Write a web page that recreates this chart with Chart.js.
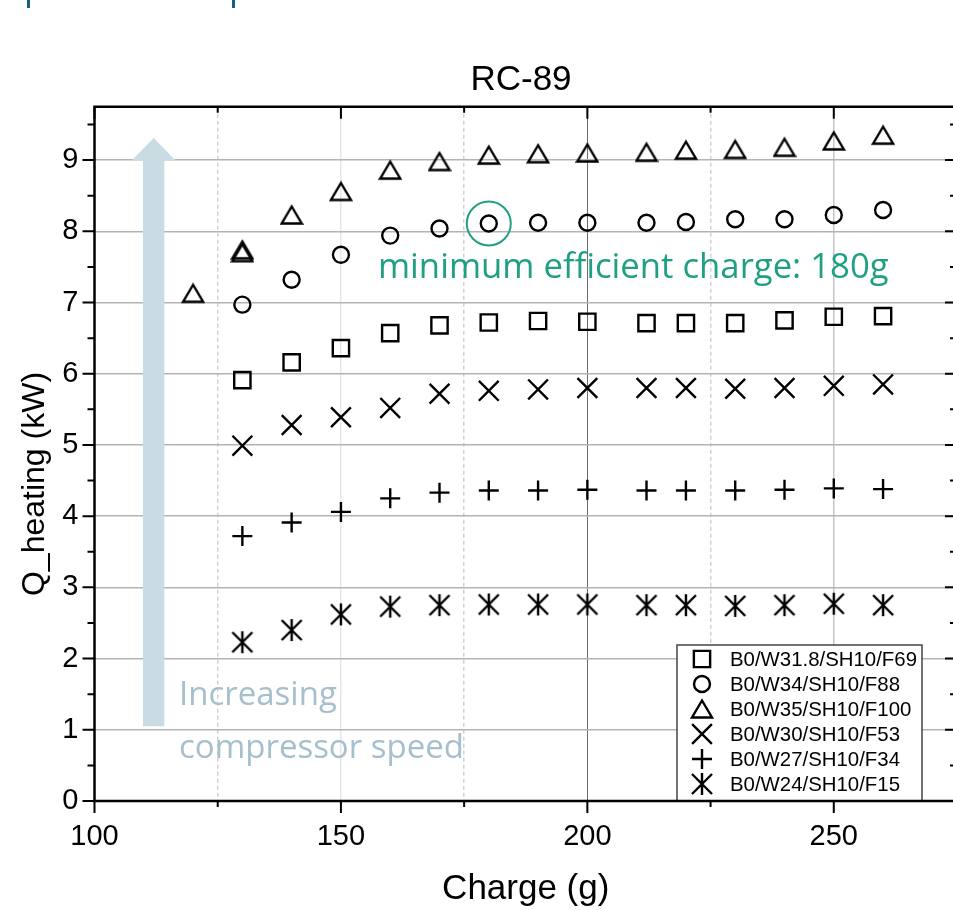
<!DOCTYPE html>
<html>
<head>
<meta charset="utf-8">
<title>RC-89</title>
<script src="https://cdn.jsdelivr.net/npm/chart.js@4.4.1/dist/chart.umd.min.js"></script>
<style>
  html, body { margin: 0; padding: 0; background: #fff; overflow: hidden; }
  #wrap { position: relative; width: 960px; height: 910px; }
</style>
</head>
<body>
<div id="wrap"><canvas id="chart" width="960" height="910"></canvas></div>
<script>
// charge (g) on the x axis; the W35 series has one extra point at 120 g and two at 130 g
const charges = [130, 140, 150, 160, 170, 180, 190, 200, 212, 220, 230, 240, 250, 260];
const chargesW35 = [120, 130, 130, 140, 150, 160, 170, 180, 190, 200, 212, 220, 230, 240, 250, 260];

// Q_heating (kW)
const qW318 = [5.91, 6.16, 6.36, 6.57, 6.68, 6.72, 6.74, 6.73, 6.71, 6.71, 6.71, 6.75, 6.80, 6.81];
const qW34 = [6.97, 7.32, 7.67, 7.94, 8.04, 8.11, 8.12, 8.12, 8.12, 8.13, 8.17, 8.17, 8.23, 8.30];
const qW35 = [7.13, 7.74, 7.70, 8.23, 8.56, 8.86, 8.98, 9.07, 9.09, 9.10, 9.11, 9.14, 9.15, 9.18, 9.27, 9.35];
const qW30 = [4.99, 5.28, 5.39, 5.52, 5.72, 5.76, 5.78, 5.80, 5.80, 5.80, 5.79, 5.80, 5.83, 5.85];
const qW27 = [3.72, 3.91, 4.06, 4.25, 4.33, 4.36, 4.36, 4.37, 4.36, 4.36, 4.36, 4.37, 4.39, 4.38];
const qW24 = [2.23, 2.40, 2.62, 2.73, 2.75, 2.76, 2.76, 2.76, 2.75, 2.75, 2.74, 2.75, 2.77, 2.75];

const seriesLabels = [
  'B0/W31.8/SH10/F69', 'B0/W34/SH10/F88', 'B0/W35/SH10/F100',
  'B0/W30/SH10/F53', 'B0/W27/SH10/F34', 'B0/W24/SH10/F15'
];

const X_MIN = 100, X_MAX = 275, X_STEP = 25;
const Y_MIN = 0, Y_MAX = 9.75;
const MIN_CHARGE = 180;

const GREEN = '#1f9f83';
const ARROW = '#c9dce4';
const NOTE = '#a6bfcc';
const SANS = '"Liberation Sans", Arial, sans-serif';
const NOTE_FONT = '"Open Sans", "Noto Sans", sans-serif';
const STROKE = 2.4;

function toPoints(xs, ys) {
  return xs.map((x, i) => ({ x, y: ys[i] }));
}

function makeMarker(w, h, draw) {
  const c = document.createElement('canvas');
  c.width = w; c.height = h;
  const g = c.getContext('2d');
  g.strokeStyle = '#000';
  g.lineWidth = STROKE;
  draw(g, w, h);
  return c;
}

const triangleMarker = makeMarker(24, 22, (g) => {
  g.beginPath();
  g.moveTo(12, 2.5); g.lineTo(2, 19.5); g.lineTo(22, 19.5);
  g.closePath();
  g.stroke();
});

const asteriskMarker = makeMarker(24, 24, (g) => {
  g.beginPath();
  g.moveTo(12, 1); g.lineTo(12, 23);
  g.moveTo(2, 2); g.lineTo(22, 22);
  g.moveTo(22, 2); g.lineTo(2, 22);
  g.stroke();
});

function series(label, xs, ys, pointStyle, radius) {
  return {
    label,
    data: toPoints(xs, ys),
    showLine: false,
    pointStyle,
    pointRadius: radius,
    pointBorderWidth: STROKE,
    pointBorderColor: '#000',
    pointBackgroundColor: 'rgba(0,0,0,0)'
  };
}

const datasets = [
  series(seriesLabels[0], charges, qW318, 'rect', 11.5),
  series(seriesLabels[1], charges, qW34, 'circle', 8),
  series(seriesLabels[2], chargesW35, qW35, triangleMarker, 11),
  series(seriesLabels[3], charges, qW30, 'crossRot', 14),
  series(seriesLabels[4], charges, qW27, 'cross', 10),
  series(seriesLabels[5], charges, qW24, asteriskMarker, 11)
];

function xGridColor(v) {
  if (v === X_MIN || v === X_MAX) return 'rgba(0,0,0,0)';
  if (v === 200) return '#6a6a6a';
  if (v === 250) return '#c6c6c6';
  if (v === 150) return '#e6e6e6';
  return '#d2d2d2';
}

function drawMarker(ctx, ds, x, y) {
  const style = ds.pointStyle;
  if (style instanceof HTMLCanvasElement) {
    ctx.drawImage(style, x - style.width / 2, y - style.height / 2);
    return;
  }
  ctx.save();
  ctx.strokeStyle = '#000';
  ctx.fillStyle = 'rgba(0,0,0,0)';
  ctx.lineWidth = STROKE;
  Chart.helpers.drawPoint(ctx, { pointStyle: style, radius: ds.pointRadius, rotation: 0, borderWidth: STROKE }, x, y);
  ctx.restore();
}

const arrowPlugin = {
  id: 'arrow',
  beforeDatasetsDraw(chart) {
    const { ctx, scales: { x, y } } = chart;
    const cx = x.getPixelForValue(112);
    const yBase = y.getPixelForValue(9);
    const yTip = y.getPixelForValue(9.31);
    const yBottom = y.getPixelForValue(1.05);
    ctx.save();
    ctx.fillStyle = ARROW;
    ctx.fillRect(cx - 10.7, yBase, 21.4, yBottom - yBase);
    ctx.beginPath();
    ctx.moveTo(cx - 21.5, yBase);
    ctx.lineTo(cx, yTip);
    ctx.lineTo(cx + 21.5, yBase);
    ctx.closePath();
    ctx.fill();
    ctx.restore();
  }
};

const overlayPlugin = {
  id: 'overlay',
  afterDatasetsDraw(chart) {
    const { ctx, chartArea: a, scales: { x, y } } = chart;
    ctx.save();

    // notes
    ctx.fillStyle = NOTE;
    ctx.font = `33px ${NOTE_FONT}`;
    ctx.textAlign = 'left';
    ctx.textBaseline = 'alphabetic';
    ctx.fillText('Increasing', 179, 705);
    ctx.fillText('compressor speed', 179, 758);

    const mi = charges.indexOf(MIN_CHARGE);
    ctx.strokeStyle = GREEN;
    ctx.lineWidth = 2;
    ctx.beginPath();
    ctx.arc(x.getPixelForValue(MIN_CHARGE), y.getPixelForValue(qW34[mi]), 22, 0, Math.PI * 2);
    ctx.stroke();
    ctx.fillStyle = GREEN;
    ctx.font = `34.7px ${NOTE_FONT}`;
    ctx.fillText('minimum efficient charge: 180g', 378, 278);

    // legend
    const lx = 677, ly = 645, lw = 245, lh = a.bottom - ly;
    ctx.fillStyle = '#fff';
    ctx.fillRect(lx, ly, lw, lh);
    ctx.strokeStyle = '#444';
    ctx.lineWidth = 1.5;
    ctx.strokeRect(lx, ly, lw, lh);
    ctx.font = `20.4px ${SANS}`;
    ctx.textBaseline = 'middle';
    chart.data.datasets.forEach((ds, i) => {
      const ry = 659 + i * 25;
      drawMarker(ctx, ds, 702, ry);
      ctx.fillStyle = '#000';
      ctx.fillText(ds.label, 730, ry + 1);
    });

    // frame and tick marks
    ctx.strokeStyle = '#000';
    ctx.lineWidth = 2.5;
    ctx.beginPath();
    ctx.moveTo(a.left, a.top); ctx.lineTo(a.right, a.top);
    ctx.lineTo(a.right, a.bottom); ctx.lineTo(a.left, a.bottom);
    ctx.closePath();
    ctx.stroke();

    ctx.lineWidth = 2;
    ctx.beginPath();
    x.ticks.forEach(t => {
      const px = x.getPixelForValue(t.value);
      const len = t.value % 50 === 0 ? 12 : 6;
      ctx.moveTo(px, a.bottom); ctx.lineTo(px, a.bottom + len);
      ctx.moveTo(px, a.top); ctx.lineTo(px, a.top + len);
    });
    y.ticks.forEach(t => {
      [[t.value, 12], [t.value + 0.5, 7]].forEach(([v, len]) => {
        if (v > Y_MAX) return;
        const py = y.getPixelForValue(v);
        ctx.moveTo(a.left - len, py); ctx.lineTo(a.left, py);
        ctx.moveTo(a.right - len, py); ctx.lineTo(a.right, py);
      });
    });
    ctx.stroke();

    // titles
    ctx.fillStyle = '#000';
    ctx.textAlign = 'center';
    ctx.textBaseline = 'middle';
    ctx.font = `35px ${SANS}`;
    ctx.fillText('RC-89', 521, 80);

    ctx.save();
    ctx.translate(35, 484);
    ctx.rotate(-Math.PI / 2);
    ctx.font = `32px ${SANS}`;
    ctx.fillText('Q_heating (kW)', 0, 0);
    ctx.restore();

    // cropped header marks
    ctx.fillStyle = '#17607f';
    ctx.fillRect(27, 0, 3, 8);
    ctx.fillRect(232, 0, 3, 8);

    ctx.restore();
  }
};

new Chart(document.getElementById('chart'), {
  type: 'scatter',
  data: { datasets },
  options: {
    responsive: false,
    devicePixelRatio: 1,
    animation: false,
    events: [],
    layout: { autoPadding: false, padding: { top: 106.7, right: 3, bottom: 0, left: 0 } },
    plugins: {
      legend: { display: false },
      tooltip: { enabled: false },
      title: { display: false }
    },
    scales: {
      x: {
        type: 'linear',
        min: X_MIN,
        max: X_MAX,
        afterFit: s => { s.height = 109; s.paddingLeft = 0; s.paddingRight = 0; },
        ticks: {
          stepSize: X_STEP,
          includeBounds: false,
          autoSkip: false,
          maxRotation: 0,
          padding: 19,
          color: '#000',
          font: { family: SANS, size: 29 },
          callback: v => (v % 50 === 0 && v < X_MAX ? String(v) : '')
        },
        grid: {
          drawTicks: false,
          color: c => xGridColor(c.tick.value),
          lineWidth: c => (c.tick.value === 200 ? 1 : 1.5)
        },
        border: {
          display: false,
          dash: c => (c.tick && c.tick.value % 50 !== 0 ? [4, 3] : [])
        },
        title: {
          display: true,
          text: 'Charge (g)',
          color: '#000',
          font: { family: SANS, size: 35 },
          padding: { top: 0, bottom: 0 }
        }
      },
      y: {
        min: Y_MIN,
        max: Y_MAX,
        afterFit: s => { s.width = 94.5; s.paddingTop = 0; s.paddingBottom = 0; },
        ticks: {
          stepSize: 1,
          includeBounds: false,
          padding: 16,
          color: '#000',
          font: { family: SANS, size: 29 }
        },
        grid: {
          drawTicks: false,
          color: c => (c.tick.value === Y_MIN ? 'rgba(0,0,0,0)' : '#b3b3b3'),
          lineWidth: 1.5
        },
        border: { display: false }
      }
    }
  },
  plugins: [arrowPlugin, overlayPlugin]
});
</script>
</body>
</html>
